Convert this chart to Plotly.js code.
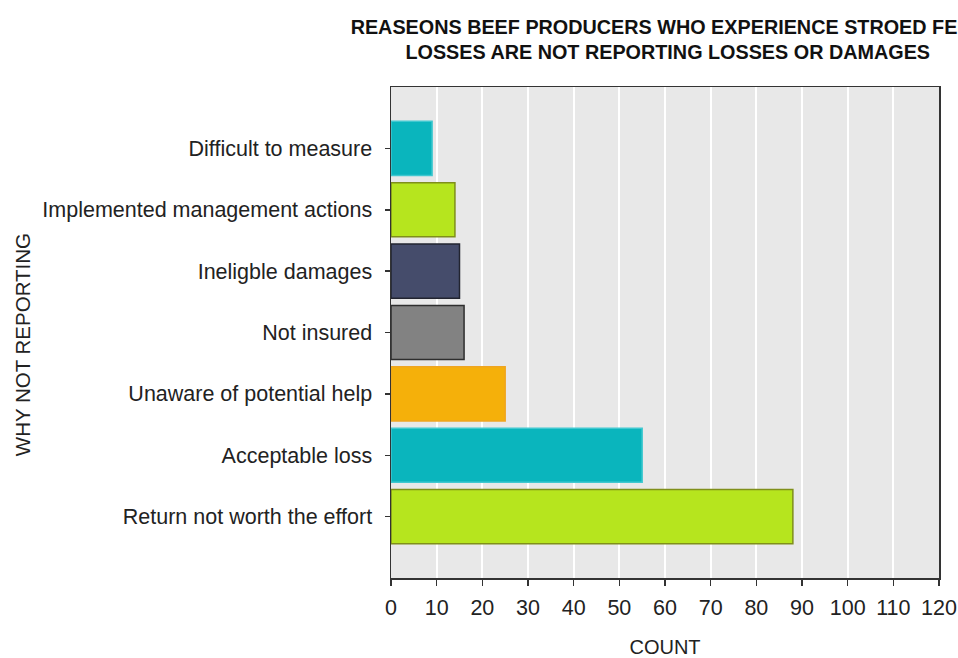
<!DOCTYPE html>
<html>
<head>
<meta charset="utf-8">
<script src="https://cdn.plot.ly/plotly-3.0.1.min.js"></script>
<style>html,body{margin:0;padding:0;background:#fff;}#chart{width:958px;height:658px;}</style>
</head>
<body>
<div id="chart"></div>
<script>
// Data (bottom to top)
const categories = [
  "Return not worth the effort",
  "Acceptable loss",
  "Unaware of potential help",
  "Not insured",
  "Ineligble damages",
  "Implemented management actions",
  "Difficult to measure"
];
const counts = [88, 55, 25, 16, 15, 14, 9];
const barColors = ["#B6E51E", "#0AB5BD", "#F5B00A", "#828282", "#454C6B", "#B6E51E", "#0AB5BD"];
const barLines  = ["#7F8F1A", "#40C8D0", "#EFA520", "#2E2E2E", "#222430", "#7F8F1A", "#40C8D0"];
const xTicks = [0, 10, 20, 30, 40, 50, 60, 70, 80, 90, 100, 110, 120];

const trace = {
  type: "bar",
  orientation: "h",
  y: categories,
  x: counts,
  width: 0.88,
  marker: { color: barColors, line: { color: barLines, width: 1.5 } },
  hoverinfo: "x+y"
};

const layout = {
  width: 958,
  height: 658,
  margin: { l: 391, r: 19, t: 87, b: 80, pad: 0 },
  paper_bgcolor: "#ffffff",
  plot_bgcolor: "#E8E8E8",
  font: { family: "Liberation Sans, Arial, sans-serif", color: "#1a1a1a" },
  showlegend: false,
  title: {
    text: "<b>REASEONS BEEF PRODUCERS WHO EXPERIENCE STROED FEED<br>LOSSES ARE NOT REPORTING LOSSES OR DAMAGES</b>",
    font: { size: 19.8, color: "#111", family: "Liberation Sans, Arial, sans-serif" },
    x: 0.505, xref: "paper", xanchor: "center",
    y: 0.949, yref: "container", yanchor: "top"
  },
  xaxis: {
    range: [0, 120],
    tickvals: xTicks,
    ticktext: xTicks.map(String),
    ticks: "outside", ticklen: 6, tickwidth: 1.5, tickcolor: "#333",
    tickfont: { size: 21.5, color: "#222" },
    ticklabelstandoff: 4,
    showgrid: true, gridcolor: "#ffffff", gridwidth: 2,
    zeroline: false,
    showline: true, linecolor: "#333", linewidth: 1.5, mirror: true,
    title: { text: "COUNT", font: { size: 20, color: "#222" }, standoff: 23 },
    fixedrange: true
  },
  yaxis: {
    type: "category",
    categoryorder: "array",
    categoryarray: categories,
    range: [-1, 7],
    ticks: "outside", ticklen: 5, tickwidth: 1.5, tickcolor: "#333",
    tickfont: { size: 21.5, color: "#222" },
    ticklabelstandoff: 8,
    showgrid: false,
    zeroline: false,
    showline: true, linecolor: "#333", linewidth: 1.5, mirror: true,
    fixedrange: true
  },
  annotations: [{
    text: "WHY NOT REPORTING",
    textangle: -90,
    xref: "paper", yref: "paper",
    x: -0.673, y: 0.4745,
    xanchor: "center", yanchor: "middle",
    showarrow: false,
    font: { size: 20.5, color: "#222" }
  }],
  bargap: 0.12
};

Plotly.newPlot("chart", [trace], layout, { displayModeBar: false, staticPlot: true });
</script>
</body>
</html>
